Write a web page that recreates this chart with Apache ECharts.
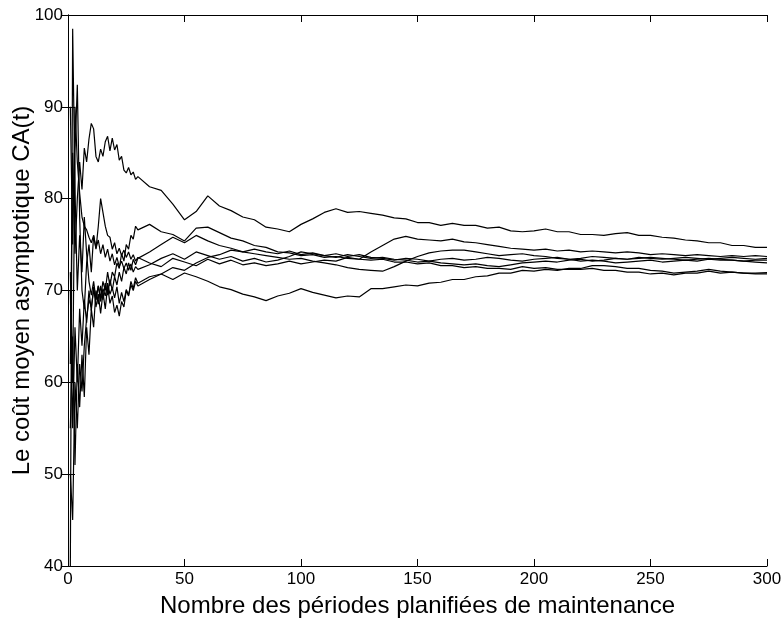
<!DOCTYPE html>
<html>
<head>
<meta charset="utf-8">
<script src="https://cdn.jsdelivr.net/npm/echarts@6/dist/echarts.min.js"></script>
<style>
html,body{margin:0;padding:0;background:#fff;}
#chart{width:782px;height:624px;}
</style>
</head>
<body>
<div id="chart"></div>
<script>
// x positions (nombre de périodes)
var periods = [1,2,3,4,5,6,7,8,9,10,11,12,13,14,15,16,17,18,19,20,21,22,23,24,25,26,27,28,29,30,
  35,40,45,50,55,60,65,70,75,80,85,90,95,100,105,110,115,120,125,130,135,140,145,150,155,160,165,170,175,180,
  185,190,195,200,205,210,215,220,225,230,235,240,245,250,255,260,265,270,275,280,285,290,295,300];

var run1 = [62,85,74,80,84,81,85.5,84,86.5,88.2,87.6,84.6,84,85.4,84.6,86.2,86.8,85.2,86.6,85.3,85.9,84.2,84.6,83.1,82.8,83.4,82.6,82.9,82.1,82.4,
  81.3,80.9,79.4,77.7,78.6,80.3,79.2,78.7,78.0,77.7,76.9,76.7,76.4,77.2,77.8,78.5,78.9,78.5,78.6,78.4,78.2,77.9,77.8,77.4,77.4,77.1,77.3,77.1,77.1,76.8,
  76.9,76.5,76.4,76.5,76.7,76.4,76.4,76.1,76.1,76.0,76.2,76.3,76.0,76.0,75.8,75.7,75.5,75.4,75.2,75.2,74.9,74.9,74.7,74.7];

var run2 = [40,98.5,81,70,76,72,78,74,71,69.5,71,69,70.5,69.2,71,70,72,70.5,72,71.5,73,72.4,74,73.2,75,74.5,76,75.6,77,76.6,
  77.2,76.4,76.1,75.4,76.8,76.9,76.3,75.7,75.4,74.9,74.7,74.2,74.1,73.8,73.9,73.6,73.7,73.5,73.4,73.3,73.4,73.1,73.1,72.9,73.0,72.7,72.7,72.5,72.6,72.4,
  72.4,72.3,72.6,72.4,72.5,72.3,72.3,72.3,72.4,72.2,72.2,72.0,72.0,71.8,71.9,71.7,71.9,71.9,72.1,71.9,72.0,71.9,71.9,71.95];

var run3 = [72,60,85,92.4,78,70,68,73,75,72,76,74.5,77,80,78.5,77,76,75.8,74.5,75.2,74,74.6,73.8,74.4,73.6,74.2,73.4,73.9,73.2,73.6,
  73.0,72.6,73.5,73.1,72.7,73.4,72.9,73.3,72.8,73.0,72.7,72.9,73.2,72.9,73.1,73.3,73.2,73.6,73.4,74.2,74.9,75.6,75.9,75.6,75.5,75.4,75.6,75.3,75.2,75.0,
  74.8,74.6,74.5,74.4,74.5,74.3,74.4,74.2,74.3,74.2,74.1,74.2,74.1,73.9,74.0,73.9,73.8,73.9,73.8,73.7,73.8,73.7,73.8,73.7];

var run4 = [55,65,51,62,57.3,63,58.4,66,63,68,66,70,68.5,70.5,69,70.8,69.5,71.2,70,71.5,70.6,72,71,72.5,71.8,73,72.2,73.4,72.8,73.5,
  74.2,75.0,75.8,75.2,76.0,75.4,74.9,74.6,74.2,74.0,73.8,73.6,73.4,73.5,73.2,73.0,72.8,72.5,72.3,72.2,72.1,72.6,73.2,73.7,74.1,74.3,74.4,74.4,74.2,74.0,
  73.8,73.9,74.0,73.8,73.7,73.5,73.4,73.2,73.3,73.2,73.0,73.1,73.2,73.3,73.1,73.2,73.3,73.2,73.4,73.3,73.3,73.2,73.3,73.3];

var run5 = [90,75,90,84,80.6,78,77,76.6,75.8,75.2,76,74.6,75.5,74,75,73.6,74.5,73.2,74,72.8,73.6,72.6,73.2,72.4,73,72.2,72.9,72.0,72.6,72.3,
  72.8,73.5,74.0,73.4,74.2,73.8,73.4,73.7,73.2,73.5,73.1,73.3,73.7,74.2,74.0,73.8,73.6,73.9,73.7,73.5,73.6,73.4,73.3,73.1,73.2,73.4,73.5,73.3,73.4,73.6,
  73.5,73.3,73.2,73.4,73.5,73.6,73.4,73.5,73.7,73.6,73.5,73.4,73.5,73.6,73.5,73.4,73.3,73.4,73.5,73.4,73.3,73.2,73.1,73.0];

var run6 = [50,45,60,55,62,59,64,67,69,68.2,70,69,70.5,68.8,70.2,69.4,70.8,69.6,70.3,69.2,70.4,68.6,69.8,68.8,70.1,69.5,70.6,70.0,71.0,70.5,
  71.2,71.8,72.5,72.2,73.0,73.6,73.9,74.4,74.2,74.5,74.2,74.0,74.3,73.9,74.1,73.8,74.0,73.7,73.9,73.6,73.5,73.3,73.5,73.4,73.2,73.0,72.9,72.8,72.9,72.7,
  72.6,72.8,73.0,73.1,73.2,73.1,73.3,73.4,73.2,73.3,73.5,73.4,73.6,73.5,73.4,73.5,73.6,73.5,73.4,73.5,73.6,73.5,73.4,73.5];

var run7 = [70,55,66,60,68,64,69,66.5,70,67.8,70.4,68.2,69.6,67.5,69.8,68,70.5,68.6,69.4,67.6,68.4,67.2,68.8,68.2,70,69.4,71,70.2,71.4,70.8,
  71.5,71.8,71.2,71.9,71.5,71.0,70.4,70.1,69.6,69.3,68.9,69.4,69.7,70.2,69.8,69.5,69.2,69.4,69.3,70.2,70.2,70.4,70.6,70.5,70.8,70.9,71.2,71.2,71.5,71.6,
  71.9,71.9,72.2,72.1,72.3,72.2,72.4,72.4,72.7,72.7,72.6,72.4,72.4,72.2,72.1,71.9,72.0,72.1,72.3,72.1,72.0,71.9,71.8,71.8];

var runs = [run1, run2, run3, run4, run5, run6, run7];

var xTicks = [0, 50, 100, 150, 200, 250, 300];
var yTicks = [40, 50, 60, 70, 80, 90, 100];

var xLabel = 'Nombre des périodes planifiées de maintenance';
var yLabel = 'Le coût moyen asymptotique CA(t)';

var font = 'Liberation Sans, Arial, Helvetica, sans-serif';

function axisCommon(showLabel) {
  return {
    axisLine: {show: true, lineStyle: {color: '#000', width: 1}},
    axisTick: {show: true, inside: true, length: 7, lineStyle: {color: '#000'}},
    axisLabel: {show: showLabel, color: '#000', fontSize: 17, fontFamily: font, margin: 5},
    splitLine: {show: false}
  };
}

var chart = echarts.init(document.getElementById('chart'), null, {renderer: 'canvas'});

var series = runs.map(function (r) {
  return {
    type: 'line',
    xAxisIndex: 0,
    yAxisIndex: 0,
    showSymbol: false,
    symbol: 'none',
    lineStyle: {color: '#000', width: 1.2},
    data: periods.map(function (p, i) { return [p, r[i]]; }),
    silent: true
  };
});

var xMin = xTicks[0], xMax = xTicks[xTicks.length - 1];
var yMin = yTicks[0], yMax = yTicks[yTicks.length - 1];

chart.setOption({
  animation: false,
  backgroundColor: '#fff',
  grid: {left: 68, right: 15, top: 15, bottom: 58, show: false, containLabel: false, outerBoundsMode: 'none'},
  xAxis: [
    Object.assign(axisCommon(true), {
      type: 'value', position: 'bottom', min: xMin, max: xMax, interval: 50,
      name: xLabel, nameLocation: 'middle', nameGap: 28, nameMoveOverlap: false,
      nameTextStyle: {color: '#000', fontSize: 24, fontFamily: font}
    }),
    Object.assign(axisCommon(false), {
      type: 'value', position: 'top', min: xMin, max: xMax, interval: 50
    })
  ],
  yAxis: [
    Object.assign(axisCommon(true), {
      type: 'value', position: 'left', min: yMin, max: yMax, interval: 10,
      name: yLabel, nameLocation: 'middle', nameGap: 34, nameMoveOverlap: false,
      nameTextStyle: {color: '#000', fontSize: 24, fontFamily: font}
    }),
    Object.assign(axisCommon(false), {
      type: 'value', position: 'right', min: yMin, max: yMax, interval: 10
    })
  ],
  series: series
});
</script>
</body>
</html>
